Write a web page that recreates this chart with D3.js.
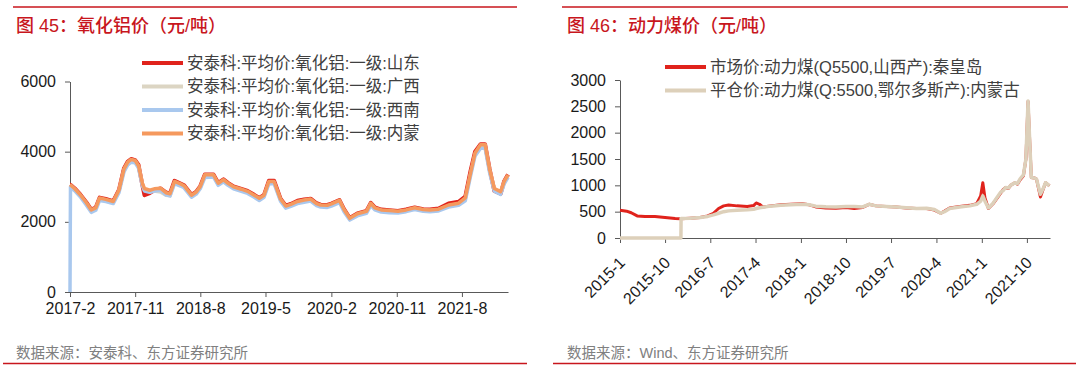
<!DOCTYPE html>
<html>
<head>
    <meta charset="utf-8">
    <script src="https://cdn.jsdelivr.net/npm/d3@7"></script>
    <title>氧化铝价 / 动力煤价</title>
    <style>
        body { margin: 0; background: #fff; }
        svg text { font-family: "Liberation Sans", "Noto Sans CJK SC", sans-serif; }
        .axis path, .axis line { stroke: #595959; }
        .axis text { fill: #1a1a1a; font-size: 16px; }
    </style>
</head>
<body>
<svg width="1080" height="372"></svg>

<script>
    // ---- 图45 氧化铝价 ----
    const alDates = ["2017-02-01", "2017-02-03", "2017-02-20", "2017-03-15", "2017-04-10", "2017-05-01", "2017-05-20", "2017-06-05", "2017-07-01", "2017-08-01",
        "2017-08-25", "2017-09-15", "2017-10-01", "2017-10-15", "2017-11-01", "2017-11-15", "2017-12-01", "2017-12-10", "2018-01-01", "2018-01-20",
        "2018-02-15", "2018-03-10", "2018-03-27", "2018-04-15", "2018-05-10", "2018-05-25", "2018-06-25", "2018-07-15", "2018-08-01", "2018-08-20",
        "2018-09-25", "2018-10-15", "2018-11-06", "2018-11-25", "2018-12-18", "2019-01-20", "2019-02-15", "2019-03-15", "2019-04-05", "2019-04-25",
        "2019-05-15", "2019-06-06", "2019-07-03", "2019-07-25", "2019-08-15", "2019-09-12", "2019-10-10", "2019-11-06", "2019-12-01", "2019-12-18",
        "2020-01-15", "2020-02-01", "2020-03-06", "2020-03-25", "2020-04-18", "2020-05-20", "2020-06-27", "2020-07-15", "2020-08-01", "2020-08-28",
        "2020-10-01", "2020-11-06", "2020-12-10", "2021-01-15", "2021-02-20", "2021-03-20", "2021-04-25", "2021-06-06", "2021-07-18", "2021-08-15",
        "2021-09-06", "2021-09-25", "2021-10-18", "2021-11-06", "2021-11-25", "2021-12-15", "2022-01-10", "2022-01-25", "2022-02-10"];
    const shandong = [3060, 3060, 2960, 2790, 2560, 2350, 2410, 2690, 2650, 2590,
        2910, 3520, 3720, 3790, 3760, 3620, 3050, 2760, 2820, 2900,
        2950, 2840, 2810, 3170, 3090, 3040, 2770, 2860, 3020, 3350,
        3350, 3110, 3210, 3110, 3010, 2940, 2880, 2770, 2680, 2770,
        3170, 3170, 2660, 2460, 2510, 2600, 2640, 2660, 2530, 2490,
        2480, 2520, 2620, 2360, 2110, 2240, 2310, 2540, 2410, 2350,
        2330, 2310, 2350, 2410, 2360, 2350, 2380, 2520, 2570, 2720,
        3450, 4000, 4210, 4210, 3500, 2880, 2800, 3160, 3350];
    const guangxi = [3050, 3040, 2930, 2760, 2530, 2320, 2380, 2660, 2620, 2560,
        2880, 3480, 3680, 3760, 3730, 3580, 3080, 2900, 2860, 2880,
        2850, 2760, 2740, 3120, 3050, 3000, 2730, 2820, 2980, 3310,
        3310, 3070, 3170, 3070, 2970, 2900, 2840, 2730, 2640, 2730,
        3120, 3120, 2620, 2430, 2480, 2560, 2600, 2630, 2500, 2460,
        2450, 2490, 2590, 2330, 2080, 2210, 2280, 2510, 2380, 2320,
        2300, 2280, 2320, 2380, 2330, 2320, 2340, 2460, 2510, 2650,
        3360, 3930, 4180, 4180, 3470, 2930, 2840, 3130, 3320];
    const xinan = [0, 3000, 2890, 2720, 2480, 2270, 2330, 2610, 2580, 2520,
        2830, 3420, 3620, 3700, 3680, 3530, 3030, 2880, 2840, 2880,
        2900, 2770, 2740, 3090, 3020, 2970, 2700, 2790, 2950, 3260,
        3280, 3040, 3140, 3040, 2940, 2870, 2810, 2700, 2610, 2700,
        3080, 3090, 2590, 2390, 2440, 2520, 2560, 2590, 2460, 2420,
        2410, 2450, 2550, 2290, 2050, 2170, 2240, 2470, 2340, 2280,
        2260, 2250, 2290, 2350, 2300, 2290, 2310, 2420, 2470, 2600,
        3300, 3880, 4100, 4100, 3400, 2870, 2780, 3080, 3270];
    const neimeng = [3060, 3050, 2950, 2780, 2550, 2340, 2400, 2680, 2640, 2580,
        2900, 3500, 3700, 3780, 3750, 3600, 3100, 2950, 2900, 2940,
        2960, 2830, 2800, 3150, 3080, 3030, 2760, 2850, 3010, 3340,
        3340, 3100, 3200, 3100, 3000, 2930, 2870, 2760, 2670, 2760,
        3150, 3150, 2650, 2450, 2500, 2580, 2620, 2650, 2520, 2480,
        2470, 2510, 2610, 2350, 2100, 2230, 2300, 2530, 2400, 2340,
        2320, 2300, 2340, 2400, 2350, 2340, 2360, 2480, 2530, 2680,
        3390, 3960, 4200, 4200, 3490, 2950, 2860, 3150, 3340];
    const alNames = ["安泰科:平均价:氧化铝:一级:山东", "安泰科:平均价:氧化铝:一级:广西",
        "安泰科:平均价:氧化铝:一级:西南", "安泰科:平均价:氧化铝:一级:内蒙"];
    const alColors = ["#e0231c", "#dcd5c3", "#a9c8ee", "#f5995e"];
    const alTicks = ["2017-02", "2017-11", "2018-08", "2019-05", "2020-02", "2020-11", "2021-08"];
    const alYTicks = [0, 2000, 4000, 6000];

    // ---- 图46 动力煤价 ----
    const coalDates = ["2015-01-01", "2015-02-10", "2015-03-10", "2015-04-15", "2015-06-01", "2015-08-01", "2015-10-01", "2015-12-01", "2016-01-05", "2016-01-06",
        "2016-03-01", "2016-05-01", "2016-06-15", "2016-07-20", "2016-08-20", "2016-09-20", "2016-10-20", "2016-12-10", "2017-02-10", "2017-03-20",
        "2017-04-05", "2017-04-25", "2017-05-15", "2017-07-01", "2017-09-01", "2017-11-01", "2018-01-10", "2018-02-20", "2018-04-01", "2018-06-01",
        "2018-08-01", "2018-10-01", "2018-11-20", "2019-01-10", "2019-02-18", "2019-04-01", "2019-06-01", "2019-08-01", "2019-10-01", "2019-12-01",
        "2020-02-01", "2020-03-20", "2020-04-27", "2020-05-20", "2020-06-20", "2020-08-20", "2020-10-20", "2020-12-01", "2020-12-25", "2021-01-07",
        "2021-01-20", "2021-02-10", "2021-03-10", "2021-04-05", "2021-04-25", "2021-05-10", "2021-05-25", "2021-06-10", "2021-06-25", "2021-07-20",
        "2021-08-05", "2021-08-20", "2021-09-10", "2021-09-25", "2021-10-08", "2021-10-20", "2021-10-28", "2021-11-15", "2021-11-28", "2021-12-22",
        "2022-01-05", "2022-01-22", "2022-02-15"];
    const qinhuangdao = [525, 510, 480, 420, 410, 410, 390, 370, 365, 365,
        375, 390, 420, 470, 560, 610, 625, 610, 600, 615,
        665, 640, 590, 610, 630, 640, 650, 630, 590, 570,
        565, 580, 560, 580, 640, 610, 600, 590, 570, 560,
        560, 530, 470, 510, 570, 600, 620, 650, 800, 1050,
        760, 560, 650, 760, 850, 920, 960, 940, 1000, 1050,
        1020, 1100, 1180, 1500, 2590, 1700, 1150, 1140, 1120, 780,
        900, 1050, 990];
    const ordos = [0, 0, 0, 0, 0, 0, 0, 0, 0, 370,
        375, 390, 410, 440, 470, 500, 515, 525, 535, 545,
        560, 575, 585, 605, 620, 630, 640, 630, 605, 595,
        590, 600, 600, 590, 640, 610, 600, 590, 575, 560,
        565, 540, 470, 500, 560, 590, 610, 640, 700, 800,
        700, 570, 660, 780, 870, 900, 960, 950, 1000, 1050,
        1030, 1120, 1200, 1500, 2600, 1700, 1150, 1140, 1120, 830,
        920, 1050, 990];
    const coalNames = ["市场价:动力煤(Q5500,山西产):秦皇岛", "平仓价:动力煤(Q:5500,鄂尔多斯产):内蒙古"];
    const coalColors = ["#e0231c", "#ddd0ba"];
    const coalTicks = ["2015-01", "2015-10", "2016-07", "2017-04", "2018-01", "2018-10", "2019-07", "2020-04", "2021-01", "2021-10"];
    const coalYTicks = [0, 500, 1000, 1500, 2000, 2500, 3000];

    const parseDay = d3.timeParse("%Y-%m-%d");
    const parseMonth = d3.timeParse("%Y-%m");
    const fmtMonth = d3.timeFormat("%Y-%-m");
    const fmtNum = d3.format("d");
    const svg = d3.select("svg");
    const red = "#c8161d";

    // frames: rules, titles, sources
    const frames = [
        {x0: 13, x1: 517, bx0: 3, bx1: 527, tx: 16, title: "图 45：氧化铝价（元/吨）", src: "数据来源：安泰科、东方证券研究所"},
        {x0: 562, x1: 1068, bx0: 553, bx1: 1076, tx: 567, title: "图 46：动力煤价（元/吨）", src: "数据来源：Wind、东方证券研究所"}
    ];
    frames.forEach(f => {
        svg.append("line").attr("x1", f.x0).attr("x2", f.x1).attr("y1", 7).attr("y2", 7)
            .attr("stroke", red).attr("stroke-width", 1.6);
        svg.append("line").attr("x1", f.bx0).attr("x2", f.bx1).attr("y1", 363.5).attr("y2", 363.5)
            .attr("stroke", red).attr("stroke-width", 1.6);
        svg.append("text").attr("x", f.tx).attr("y", 32).attr("fill", red)
            .style("font-size", "18px").style("font-weight", 500).text(f.title);
        svg.append("text").attr("x", f.tx).attr("y", 358).attr("fill", "#808080")
            .style("font-size", "14.5px").text(f.src);
    });

    // ---- left chart ----
    const xL = d3.scaleTime().domain([parseDay("2017-02-01"), parseDay("2022-02-10")]).range([70, 508]);
    const yL = d3.scaleLinear().domain([0, 6000]).range([292, 81.5]);

    svg.append("g").attr("class", "axis").attr("transform", "translate(0,292)")
        .call(d3.axisBottom(xL).tickValues(alTicks.map(parseMonth)).tickFormat(fmtMonth)
            .tickSize(5).tickSizeOuter(0).tickPadding(6));
    svg.append("g").attr("class", "axis").attr("transform", "translate(70,0)")
        .call(d3.axisLeft(yL).tickValues(alYTicks).tickFormat(fmtNum)
            .tickSize(5).tickSizeOuter(0).tickPadding(9));

    const alSeries = [shandong, guangxi, xinan, neimeng];
    const lineL = d3.line().x(d => xL(d.date)).y(d => yL(d.value));
    alSeries.forEach((vals, i) => {
        const pts = alDates.map((d, j) => ({date: parseDay(d), value: vals[j]}));
        svg.append("path").datum(pts).attr("d", lineL).attr("fill", "none")
            .attr("stroke", alColors[i]).attr("stroke-width", i === 0 ? 4 : 3.5)
            .attr("stroke-linejoin", "round");
    });

    const legL = svg.append("g").attr("transform", "translate(142,63)");
    alNames.forEach((name, i) => {
        const g = legL.append("g").attr("transform", `translate(0,${i * 23.5})`);
        g.append("line").attr("x1", 0).attr("x2", 41).attr("stroke", alColors[i]).attr("stroke-width", 4);
        g.append("text").attr("x", 45).attr("dy", "0.35em").attr("fill", "#404040")
            .style("font-size", "16.5px").text(name);
    });

    // ---- right chart ----
    const xR = d3.scaleTime().domain([parseDay("2015-01-01"), parseDay("2022-02-18")]).range([620, 1050]);
    const yR = d3.scaleLinear().domain([0, 3000]).range([238, 80]);

    const xAxisR = svg.append("g").attr("class", "axis").attr("transform", "translate(0,238)")
        .call(d3.axisBottom(xR).tickValues(coalTicks.map(parseMonth)).tickFormat(fmtMonth)
            .tickSize(5).tickSizeOuter(0));
    xAxisR.selectAll(".tick text")
        .attr("text-anchor", "end")
        .attr("dy", "0.35em")
        .attr("transform", "translate(-4,16) rotate(-45)");
    svg.append("g").attr("class", "axis").attr("transform", "translate(620,0)")
        .call(d3.axisLeft(yR).tickValues(coalYTicks).tickFormat(fmtNum)
            .tickSize(5).tickSizeOuter(0).tickPadding(9));

    const coalSeries = [qinhuangdao, ordos];
    const lineR = d3.line().x(d => xR(d.date)).y(d => yR(d.value));
    coalSeries.forEach((vals, i) => {
        const pts = coalDates.map((d, j) => ({date: parseDay(d), value: vals[j]}));
        svg.append("path").datum(pts).attr("d", lineR).attr("fill", "none")
            .attr("stroke", coalColors[i]).attr("stroke-width", i === 0 ? 3 : 3.5)
            .attr("stroke-linejoin", "round");
    });

    const legR = svg.append("g").attr("transform", "translate(665,67)");
    coalNames.forEach((name, i) => {
        const g = legR.append("g").attr("transform", `translate(0,${i * 23.5})`);
        g.append("line").attr("x1", 0).attr("x2", 41).attr("stroke", coalColors[i]).attr("stroke-width", 4);
        g.append("text").attr("x", 45).attr("dy", "0.35em").attr("fill", "#404040")
            .style("font-size", "16.5px").text(name);
    });
</script>
</body>
</html>
